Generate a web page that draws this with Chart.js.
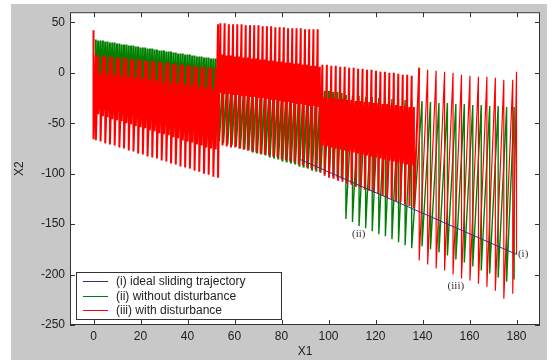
<!DOCTYPE html>
<html>
<head>
<meta charset="utf-8">
<script src="https://cdn.jsdelivr.net/npm/chart.js@4/dist/chart.umd.min.js"></script>
<style>
html, body { margin: 0; padding: 0; background: #fff; }
#wrap { width: 557px; height: 360px; }
</style>
</head>
<body>
<div id="wrap"><canvas id="chart" width="557" height="360"></canvas></div>
<script>
// axis ticks
const xTicks = [0, 20, 40, 60, 80, 100, 120, 140, 160, 180];
const yTicks = [-250, -200, -150, -100, -50, 0, 50];

const legendLabels = ['(i) ideal sliding trajectory', '(ii) without disturbance', '(iii) with disturbance'];

// (i) ideal sliding line, end points
const idealX = [88, 180];
const idealY = [-86, -180];

// (iii) with disturbance: each entry is one swing at x from hi down to lo
const redX = [
  0,
  1, 2, 3, 4, 5, 6, 7, 8, 9, 10, 11, 12, 13, 14, 15, 16, 17, 18, 19, 20, 21, 22, 23, 24, 25, 26,
  27, 28, 29, 30, 31, 32, 33, 34, 35, 36, 37, 38, 39, 40, 41, 42, 43, 44, 45, 46, 47, 48, 49, 50, 51, 52,
  53,
  54.0, 54.9, 55.8, 56.7, 57.6, 58.5, 59.4, 60.3, 61.2, 62.1, 63.0, 63.9, 64.8, 65.7, 66.6, 67.5,
  68.4, 69.3, 70.2, 71.1, 72.0, 72.9, 73.8, 74.7, 75.6, 76.5, 77.4, 78.3, 79.2, 80.1, 81.0, 81.9,
  82.8, 83.7, 84.6, 85.5, 86.4, 87.3, 88.2, 89.1, 90.0, 90.9, 91.8, 92.7, 93.6, 94.5, 95.4, 96.3,
  97.4, 98.35, 99.3, 100.25, 101.2, 102.15, 103.1, 104.05, 105.0, 105.95, 106.9, 107.85, 108.8, 109.75,
  110.7, 111.65, 112.6, 113.55, 114.5, 115.45, 116.4, 117.35, 118.3, 119.25, 120.2, 121.15, 122.1, 123.05,
  124.0, 124.95, 125.9, 126.85, 127.8, 128.75, 129.7, 130.65, 131.6, 132.55, 133.5, 134.45, 135.4, 136.35,
  138.6, 142.2, 145.8, 149.4, 153.0, 156.6, 160.2, 163.8, 167.4, 171.0, 174.6, 178.4,
  180
];
const redHi = [
  42,
  18, 17, 0, 17, 17, -1, 16, 16, -2, 15, 15, -3, 15, 14, -4, 14, 13, -5, 13, 13, -6, 12, 12, -7, 12, 11,
  -8, 11, 10, -9, 10, 10, -10, 9, 9, -11, 8, 8, -12, 8, 7, -13, 7, 6, -14, 6, 6, -15, 5, 5, -16, 5,
  48,
  49, 18, 49, 17, 48, 17, 48, 16, 48, 16, 48, 15, 47, 15, 47, 14,
  47, 14, 47, 13, 46, 13, 46, 12, 46, 12, 45, 11, 45, 11, 45, 10,
  44, 10, 44, 9, 44, 9, 44, 8, 43, 8, 43, 7, 43, 7, 43, 6,
  8, -24, 8, -25, 7, -25, 7, -26, 6, -26, 6, -27, 5, -27,
  5, -28, 4, -28, 4, -29, 3, -29, 3, -30, 2, -30, 1, -31,
  1, -31, 0, -32, 0, -32, -1, -33, -2, -33, -2, -34, -3, -34,
  5, 3, 2, 1, 0, -2, -3, -4, -4, -5, -7, -7,
  1
];
const redLo = [
  -66,
  -67, -41, -68, -43, -70, -44, -71, -46, -72, -47, -74, -48, -75, -50, -77, -51, -78, -53, -80, -54, -81, -55, -83, -57, -84, -58,
  -85, -60, -87, -61, -88, -62, -90, -64, -91, -65, -93, -67, -94, -68, -95, -69, -97, -71, -98, -72, -100, -74, -101, -75, -103, -76,
  -104,
  -20, -72, -21, -73, -21, -74, -22, -74, -22, -75, -23, -76, -23, -77, -24, -78,
  -24, -79, -25, -80, -25, -81, -26, -82, -27, -83, -27, -84, -28, -86, -29, -87,
  -29, -88, -30, -89, -31, -91, -31, -92, -32, -94, -33, -95, -33, -96, -34, -98,
  -72, -102, -73, -104, -74, -105, -75, -107, -76, -108, -77, -110, -78, -111,
  -79, -113, -80, -114, -81, -116, -82, -117, -83, -119, -84, -120, -85, -122,
  -86, -124, -87, -125, -88, -127, -89, -128, -90, -130, -91, -132, -92, -134,
  -186, -190, -194, -196, -200, -204, -206, -209, -212, -216, -224, -219,
  -180
];

// (ii) without disturbance
const greenX = [
  1, 2, 3, 4, 5, 6, 7, 8, 9, 10, 11, 12, 13, 14, 15, 16, 17, 18, 19, 20, 21, 22, 23, 24, 25, 26,
  27, 28, 29, 30, 31, 32, 33, 34, 35, 36, 37, 38, 39, 40, 41, 42, 43, 44, 45, 46, 47, 48, 49, 50, 51, 52,
  53.4, 55.2, 57.0, 58.8, 60.6, 62.4, 64.2, 66.0, 67.8, 69.6, 71.4, 73.2, 75.0, 76.8, 78.6,
  80.4, 82.2, 84.0, 85.8, 87.6, 89.4, 91.2, 93.0, 94.8, 96.6, 98.4, 100.2, 102.0, 103.8, 105.6,
  107.4, 110.2, 113.0, 115.8, 118.6, 121.4, 124.2, 127.0, 129.8, 132.6, 135.4,
  139.8, 143.4, 147.0, 150.6, 154.2, 157.8, 161.4, 165.0, 168.6, 172.2, 175.8, 179.0
];
const greenHi = [
  33, 32, 32, 32, 31, 31, 30, 30, 30, 29, 29, 28, 28, 28, 27, 27, 27, 26, 26, 25, 25, 25, 24, 24, 24, 23,
  23, 22, 22, 22, 21, 21, 21, 20, 20, 19, 19, 19, 18, 18, 18, 17, 17, 16, 16, 16, 15, 15, 15, 14, 14, 14,
  -5, -5, -6, -6, -7, -7, -8, -8, -9, -9, -10, -10, -11, -11, -12,
  -12, -13, -13, -14, -14, -15, -15, -16, -16, -17, -18, -18, -19, -19, -20,
  -22, -23, -23, -24, -24, -25, -25, -26, -26, -27, -27,
  -28, -29, -30, -30, -31, -31, -32, -32, -33, -33, -34, -34
];
const greenLo = [
  -35, -36, -36, -37, -37, -38, -38, -39, -39, -40, -40, -41, -41, -42, -42, -43, -43, -44, -44, -45, -45, -46, -46, -47, -47, -48,
  -48, -49, -49, -50, -50, -51, -51, -52, -52, -53, -53, -54, -54, -55, -55, -56, -56, -57, -57, -58, -58, -59, -59, -60, -60, -61,
  -68, -70, -71, -72, -73, -75, -76, -77, -79, -80, -81, -82, -84, -85, -86,
  -88, -89, -90, -91, -93, -94, -95, -97, -98, -99, -100, -101, -103, -104, -105,
  -145, -148, -152, -154, -157, -160, -162, -165, -168, -171, -174,
  -172, -175, -178, -181, -185, -188, -192, -196, -199, -203, -207, -205
];

// curve labels placed in data coordinates
const notes = [
  { text: '(ii)', x: 112.9, y: -160, align: 'center' },
  { text: '(iii)', x: 154.2, y: -211, align: 'center' },
  { text: '(i)', x: 180.6, y: -180, align: 'left' }
];

const colors = { ideal: '#3b2a8c', green: '#008000', red: '#ff0000' };
const labelFont = '12px "Liberation Sans", Arial, sans-serif';

function swings(xs, hi, lo) {
  const pts = [];
  xs.forEach((x, i) => {
    pts.push({ x: x, y: hi[i] });
    pts.push({ x: x, y: lo[i] });
  });
  return pts;
}

const redPts = swings(redX, redHi, redLo);
const greenPts = swings(greenX, greenHi, greenLo);

const framePlugin = {
  id: 'frame',
  beforeDraw(chart) {
    const { ctx, chartArea: a } = chart;
    ctx.save();
    ctx.fillStyle = '#fff';
    ctx.fillRect(0, 0, chart.width, chart.height);
    ctx.fillStyle = '#c8c8c8';
    ctx.fillRect(11, 4, 536, 356);
    ctx.fillStyle = '#fff';
    ctx.fillRect(a.left, a.top, a.right - a.left, a.bottom - a.top);
    ctx.restore();
  },
  afterDraw(chart) {
    const { ctx, chartArea: a } = chart;
    const xs = chart.scales.x, ys = chart.scales.y;
    ctx.save();
    // axes box
    ctx.strokeStyle = '#333';
    ctx.lineWidth = 1;
    ctx.strokeRect(a.left + 0.5, a.top + 0.5, a.right - a.left - 1, a.bottom - a.top - 1);
    // inward ticks on all sides
    ctx.beginPath();
    xTicks.forEach(v => {
      const p = Math.round(xs.getPixelForValue(v)) + 0.5;
      ctx.moveTo(p, a.bottom); ctx.lineTo(p, a.bottom - 5);
      ctx.moveTo(p, a.top); ctx.lineTo(p, a.top + 5);
    });
    yTicks.forEach(v => {
      const p = Math.round(ys.getPixelForValue(v)) + 0.5;
      ctx.moveTo(a.left, p); ctx.lineTo(a.left + 5, p);
      ctx.moveTo(a.right, p); ctx.lineTo(a.right - 5, p);
    });
    ctx.stroke();

    // curve labels
    ctx.fillStyle = '#333';
    ctx.font = '11px "Liberation Serif", "Times New Roman", serif';
    ctx.textBaseline = 'middle';
    notes.forEach(n => {
      ctx.textAlign = n.align;
      ctx.fillText(n.text, xs.getPixelForValue(n.x), ys.getPixelForValue(n.y));
    });

    // legend
    ctx.fillStyle = '#fff';
    ctx.fillRect(76.5, 272.5, 205, 47);
    ctx.strokeStyle = '#333';
    ctx.strokeRect(76.5, 272.5, 205, 47);
    const legendColors = [colors.ideal, colors.green, colors.red];
    const rows = [281, 296, 310];
    ctx.font = labelFont;
    ctx.textAlign = 'left';
    legendLabels.forEach((t, i) => {
      ctx.strokeStyle = legendColors[i];
      ctx.beginPath();
      ctx.moveTo(83, rows[i] + 0.5);
      ctx.lineTo(108, rows[i] + 0.5);
      ctx.stroke();
      ctx.fillStyle = '#222';
      ctx.fillText(t, 116, rows[i] + 1);
    });

    // axis titles
    ctx.fillStyle = '#222';
    ctx.textAlign = 'center';
    ctx.fillText('X1', (a.left + a.right) / 2, 352);
    ctx.translate(20, (a.top + a.bottom) / 2);
    ctx.rotate(-Math.PI / 2);
    ctx.fillText('X2', 0, 0);
    ctx.restore();
  }
};

const lineStyle = {
  pointRadius: 0,
  tension: 0,
  fill: false,
  borderJoinStyle: 'bevel',
  borderCapStyle: 'butt'
};

new Chart(document.getElementById('chart'), {
  type: 'line',
  data: {
    datasets: [
      Object.assign({
        label: legendLabels[0],
        data: idealX.map((x, i) => ({ x: x, y: idealY[i] })),
        borderColor: colors.ideal,
        borderWidth: 1,
        order: 0
      }, lineStyle),
      Object.assign({
        label: legendLabels[1],
        data: greenPts,
        borderColor: colors.green,
        borderWidth: 2,
        segment: { borderWidth: c => greenPts[c.p0DataIndex].x > 106 ? 1.4 : 2 },
        order: 2
      }, lineStyle),
      Object.assign({
        label: legendLabels[2],
        data: redPts,
        borderColor: colors.red,
        borderWidth: 2,
        segment: { borderWidth: c => redPts[c.p0DataIndex].x > 137 ? 1.2 : 2 },
        order: 1
      }, lineStyle)
    ]
  },
  options: {
    responsive: false,
    animation: false,
    devicePixelRatio: 1,
    layout: { padding: { left: 0, top: 11, right: 17, bottom: 0 } },
    plugins: { legend: { display: false }, tooltip: { enabled: false } },
    scales: {
      x: {
        type: 'linear',
        min: -10,
        max: 190,
        afterBuildTicks: s => { s.ticks = xTicks.map(v => ({ value: v })); },
        afterFit: s => { s.height = 35; },
        grid: { display: false, drawTicks: false },
        border: { display: false },
        ticks: {
          autoSkip: false,
          maxRotation: 0,
          padding: 4,
          color: '#222',
          font: { family: '"Liberation Sans", Arial, sans-serif', size: 12 },
          callback: v => String(v)
        }
      },
      y: {
        type: 'linear',
        min: -250,
        max: 60,
        afterBuildTicks: s => { s.ticks = yTicks.map(v => ({ value: v })); },
        afterFit: s => { s.width = 70; },
        grid: { display: false, drawTicks: false },
        border: { display: false },
        ticks: {
          autoSkip: false,
          padding: 5,
          color: '#222',
          font: { family: '"Liberation Sans", Arial, sans-serif', size: 12 },
          callback: v => String(v)
        }
      }
    }
  },
  plugins: [framePlugin]
});
</script>
</body>
</html>
